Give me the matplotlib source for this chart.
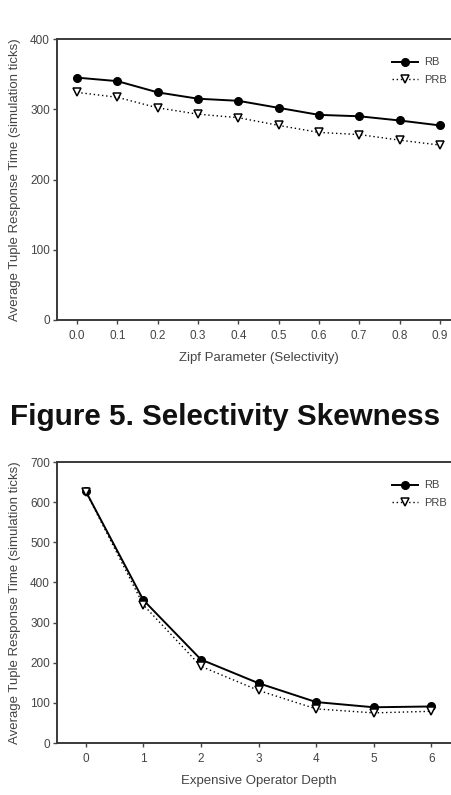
import matplotlib
matplotlib.use('Agg')
import matplotlib.pyplot as plt

plt.rcParams['font.family'] = ['Liberation Sans', 'DejaVu Sans']

# selectivity skewness
zipf = [0.0, 0.1, 0.2, 0.3, 0.4, 0.5, 0.6, 0.7, 0.8, 0.9]
zipf_rb = [345, 340, 324, 315, 312, 302, 292, 290, 284, 277]
zipf_prb = [324, 317, 302, 293, 288, 277, 267, 264, 256, 249]

# expensive operator depth
depth = [0, 1, 2, 3, 4, 5, 6]
depth_rb = [627, 356, 208, 149, 102, 89, 91]
depth_prb = [626, 344, 191, 131, 85, 75, 79]

W, H = 451, 795
fig = plt.figure(figsize=(W / 100, H / 100), dpi=100)

ylabel = 'Average Tuple Response Time (simulation ticks)'
txt = '#444444'
spine_col = '#3a3a3a'


def style(ax):
    for s in ['left', 'bottom', 'top', 'right']:
        ax.spines[s].set_color(spine_col)
        ax.spines[s].set_linewidth(1.4)
    ax.tick_params(colors=txt, labelsize=8.5, length=3, width=1, direction='out')
    ax.tick_params(axis='y', pad=2)
    ax.tick_params(axis='x', pad=4)


def draw(ax, x, rb, prb):
    ax.plot(x, rb, color='black', lw=1.4, marker='o', ms=5.5,
            mfc='black', mec='black', label='RB')
    ax.plot(x, prb, color='black', lw=1.0, ls=(0, (1, 2)), marker='v', ms=5.5,
            mfc='white', mec='black', mew=1.1, label='PRB')
    leg = ax.legend(loc='upper right', bbox_to_anchor=(0.985, 0.958), frameon=False,
                    fontsize=8, handlelength=2.3, labelspacing=0.65,
                    borderaxespad=0.2, handletextpad=0.6)
    for t in leg.get_texts():
        t.set_color(txt)


# top panel
ax1 = fig.add_axes([57 / W, 1 - 320 / H, 403 / W, (320 - 39) / H])
draw(ax1, zipf, zipf_rb, zipf_prb)
ax1.set_xlim(-0.05, 0.95)
ax1.set_ylim(0, 400)
ax1.set_xticks(zipf)
ax1.set_xticklabels(['%.1f' % v for v in zipf])
ax1.set_yticks([0, 100, 200, 300, 400])
style(ax1)
ax1.set_xlabel('Zipf Parameter (Selectivity)', fontsize=9.5, color=txt)
ax1.set_ylabel(ylabel, fontsize=9.5, color=txt)
ax1.yaxis.set_label_coords(-36 / 403, 0.5)
ax1.xaxis.set_label_coords(0.5, -32 / 281)

fig.text(225 / W, 1 - 417 / H, 'Figure 5. Selectivity Skewness', ha='center',
         va='center', fontsize=21.3, fontweight='bold', color='#111111')

# bottom panel
ax2 = fig.add_axes([57 / W, 1 - 743 / H, 403 / W, (743 - 462) / H])
draw(ax2, depth, depth_rb, depth_prb)
ax2.set_xlim(-0.5, 6.5)
ax2.set_ylim(0, 700)
ax2.set_xticks(depth)
ax2.set_yticks(range(0, 701, 100))
style(ax2)
ax2.set_xlabel('Expensive Operator Depth', fontsize=9.5, color=txt)
ax2.set_ylabel(ylabel, fontsize=9.5, color=txt)
ax2.yaxis.set_label_coords(-36 / 403, 0.5)
ax2.xaxis.set_label_coords(0.5, -32 / 281)

fig.savefig('out.png', dpi=100)
